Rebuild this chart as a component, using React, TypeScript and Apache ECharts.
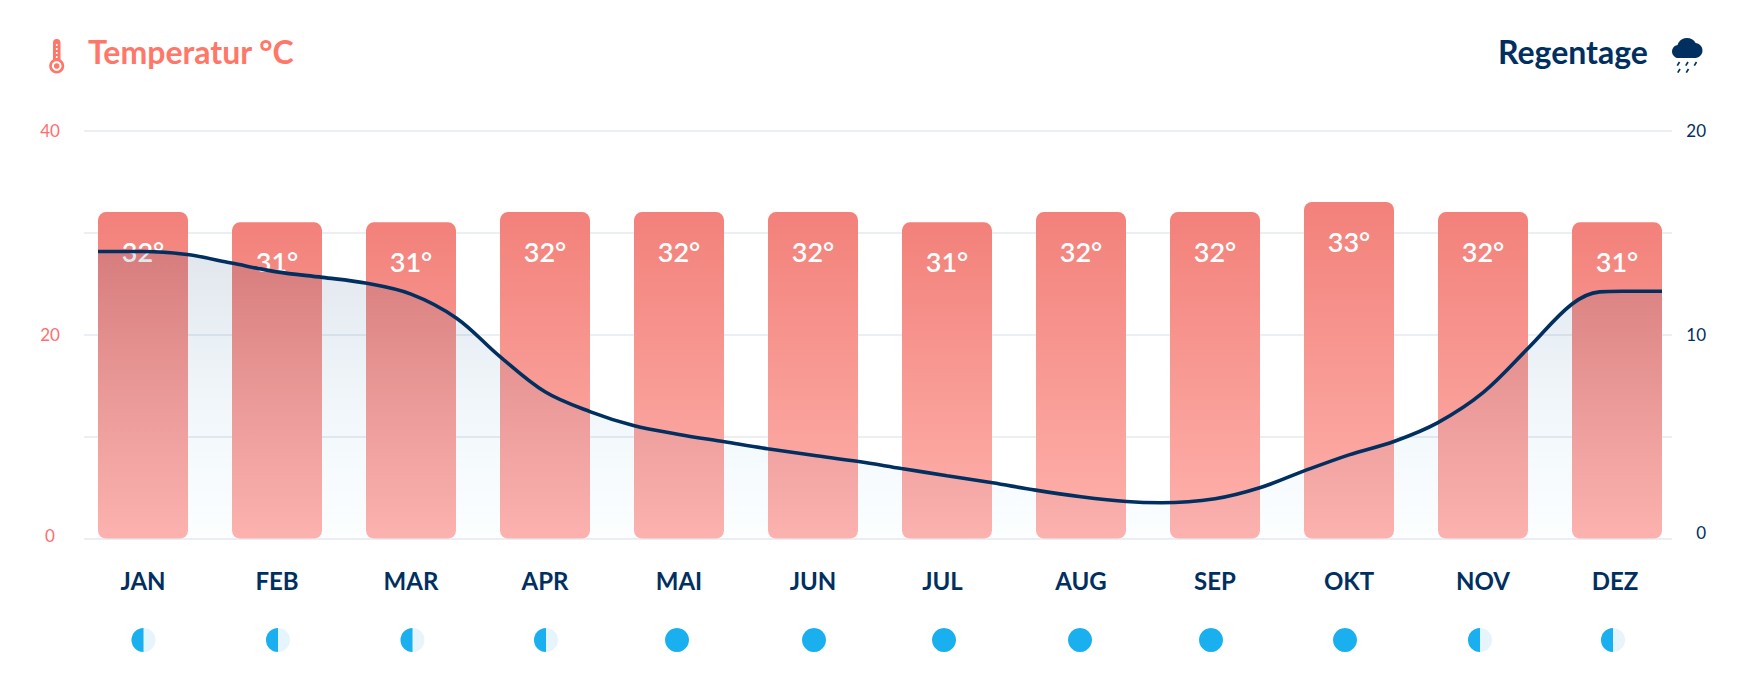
import React, { useEffect, useRef } from "react";
import * as echarts from "echarts";

const months = ["JAN", "FEB", "MAR", "APR", "MAI", "JUN", "JUL", "AUG", "SEP", "OKT", "NOV", "DEZ"];
const temperature = [32, 31, 31, 32, 32, 32, 31, 32, 32, 33, 32, 31];
// rainy days curve: [month position, days]
const rainCurve = [
  [-0.336, 14.07], [0, 14.07], [0.33, 13.92], [0.66, 13.5], [1, 13.07], [1.34, 12.8], [1.66, 12.52],
  [2, 11.98], [2.34, 10.8], [2.66, 8.94], [3, 7.19], [3.34, 6.21], [3.66, 5.54], [4, 5.1], [4.34, 4.74],
  [4.66, 4.4], [5, 4.08], [5.34, 3.77], [5.66, 3.43], [6, 3.08], [6.34, 2.73], [6.66, 2.37], [7, 2.05],
  [7.34, 1.81], [7.6, 1.75], [8, 1.95], [8.34, 2.5], [8.66, 3.3], [9, 4.1], [9.34, 4.77], [9.66, 5.67],
  [10, 7.15], [10.34, 9.35], [10.66, 11.47], [10.87, 12.09], [11.04, 12.12], [11.336, 12.12],
];
const waterFill = [0.5, 0.5, 0.5, 0.5, 1, 1, 1, 1, 1, 1, 0.5, 0.5];
const iconNudge = [0.5, 1, 1.5, 1, -2, 1, -3, -1, -4, -4, -3, -4];

const NAVY = "#012F60";
const CORAL = "#FF7768";
const FONT = "Lato";

const monthStyle = { color: NAVY, fontFamily: FONT, fontWeight: "bold", fontSize: 24 };

const optionOf = () => ({
  animation: false,
  grid: [
    { left: 84, width: 1588, top: 130.5, height: 408 },
    { left: 76, width: 1608, top: 130.5, height: 408 },
    { left: 76, width: 1608, top: 620, height: 40 },
  ],
  xAxis: [
    { gridIndex: 0, type: "value", min: 0, max: 1, show: false },
    {
      gridIndex: 1, type: "category", data: months,
      axisLine: { show: false }, axisTick: { show: false },
      axisLabel: {
        ...monthStyle, margin: 30,
        formatter: (m: string) => (m === "JUL" ? "{a|JUL}" : m === "DEZ" ? "{b|DEZ}" : m),
        rich: {
          a: { ...monthStyle, padding: [0, 9, 0, 0] },
          b: { ...monthStyle, padding: [0, 4, 0, 0] },
        },
      },
    },
    { gridIndex: 1, type: "value", min: -0.5, max: 11.5, show: false },
    { gridIndex: 2, type: "category", data: months, show: false },
  ],
  yAxis: [
    {
      gridIndex: 0, type: "value", min: 0, max: 40, interval: 10,
      axisLine: { show: false }, axisTick: { show: false },
      splitLine: { show: true, lineStyle: { color: "#EBEEF2", width: 2 } },
      axisLabel: {
        color: "#FF6E6E", fontFamily: FONT, fontSize: 17, margin: 34, align: "center",
        formatter: (v: number) => (v === 0 ? "{z|0}" : v % 20 === 0 ? String(v) : ""),
        rich: { z: { color: "#FF6E6E", fontFamily: FONT, fontSize: 17, padding: [0, 0, 6, 0] } },
      },
    },
    {
      gridIndex: 0, type: "value", position: "right", min: 0, max: 20, interval: 5,
      axisLine: { show: false }, axisTick: { show: false }, splitLine: { show: false },
      axisLabel: {
        color: NAVY, fontFamily: FONT, fontSize: 17, margin: 34, align: "right",
        formatter: (v: number) => (v === 0 ? "{z|0}" : v % 10 === 0 ? String(v) : ""),
        rich: { z: { color: NAVY, fontFamily: FONT, fontSize: 17, padding: [0, 0, 12, 0] } },
      },
    },
    { gridIndex: 1, type: "value", min: 0, max: 40, show: false },
    { gridIndex: 1, type: "value", min: 0, max: 20, show: false },
    { gridIndex: 2, type: "value", min: 0, max: 1, show: false },
  ],
  series: [
    {
      type: "bar", xAxisIndex: 1, yAxisIndex: 2, z: 2, barWidth: 90,
      data: temperature,
      itemStyle: {
        borderRadius: 8,
        color: new echarts.graphic.LinearGradient(0, 0, 0, 1, [
          { offset: 0, color: "#F2817A" },
          { offset: 1, color: "#FFB2AD" },
        ]),
      },
      label: {
        show: true, position: "insideTop", distance: 26, color: "#fff",
        fontFamily: FONT, fontWeight: 600, fontSize: 27, formatter: "{c}°",
      },
    },
    {
      type: "line", xAxisIndex: 2, yAxisIndex: 3, z: 3, smooth: 0.35,
      showSymbol: false, symbol: "none", data: rainCurve,
      lineStyle: { color: NAVY, width: 3.6 },
      areaStyle: {
        color: new echarts.graphic.LinearGradient(0, 0, 0, 1, [
          { offset: 0, color: "rgba(1,47,96,0.17)" },
          { offset: 1, color: "rgba(30,170,240,0.02)" },
        ]),
      },
    },
    {
      type: "custom", xAxisIndex: 3, yAxisIndex: 4, silent: true,
      data: waterFill.map((f, i) => [i, 0.5, f, iconNudge[i]]),
      renderItem: (_p: any, api: any) => {
        const [x, y] = api.coord([api.value(0), api.value(1)]);
        const cx = x + api.value(3);
        const full = api.value(2) >= 1;
        return {
          type: "group",
          children: [
            { type: "circle", shape: { cx, cy: y, r: 12 }, style: { fill: full ? "#1AB0F0" : "#E6F4FB" } },
            ...(full ? [] : [{
              type: "sector",
              shape: { cx, cy: y, r: 12, r0: 0, startAngle: Math.PI / 2, endAngle: (3 * Math.PI) / 2 },
              style: { fill: "#1AB0F0" },
            }]),
          ],
        };
      },
    },
  ],
  graphic: [
    { type: "text", x: 88, y: 51.5, style: { text: "Temperatur °C", fill: CORAL, font: `bold 32px ${FONT}`, verticalAlign: "middle" } },
    { type: "text", x: 1498, y: 51.5, style: { text: "Regentage", fill: NAVY, font: `bold 32px ${FONT}`, verticalAlign: "middle" } },
    // thermometer
    { type: "rect", shape: { x: 53, y: 39, width: 7.5, height: 26, r: 3.7 }, style: { fill: CORAL } },
    { type: "line", shape: { x1: 56.75, y1: 44, x2: 56.75, y2: 58 }, style: { stroke: "#fff", lineWidth: 1.6, lineDash: [2, 2] } },
    { type: "circle", shape: { cx: 56.7, cy: 66, r: 6.2 }, style: { fill: "#fff", stroke: CORAL, lineWidth: 2.6 } },
    { type: "circle", shape: { cx: 56.7, cy: 66, r: 2.8 }, style: { fill: CORAL } },
    // cloud
    { type: "circle", shape: { cx: 1687, cy: 48, r: 10 }, style: { fill: NAVY } },
    { type: "circle", shape: { cx: 1678.5, cy: 51.5, r: 6.5 }, style: { fill: NAVY } },
    { type: "circle", shape: { cx: 1695, cy: 50.5, r: 7.5 }, style: { fill: NAVY } },
    { type: "rect", shape: { x: 1678, y: 48, width: 18, height: 10 }, style: { fill: NAVY } },
    // rain
    ...[[1679.5, 62], [1688, 62], [1696.5, 62], [1680, 69], [1688.5, 69]].map(([x, y]) => ({
      type: "line",
      shape: { x1: x, y1: y, x2: x - 2.2, y2: y + 3.6 },
      style: { stroke: NAVY, lineWidth: 1.7 },
    })),
  ],
});

export default function App() {
  const ref = useRef<HTMLDivElement>(null);
  useEffect(() => {
    document.body.style.margin = "0";
    const chart = echarts.init(ref.current!, undefined, { renderer: "svg" });
    chart.setOption(optionOf() as any);
    return () => chart.dispose();
  }, []);
  return <div ref={ref} style={{ width: 1758, height: 692, background: "#fff" }} />;
}
